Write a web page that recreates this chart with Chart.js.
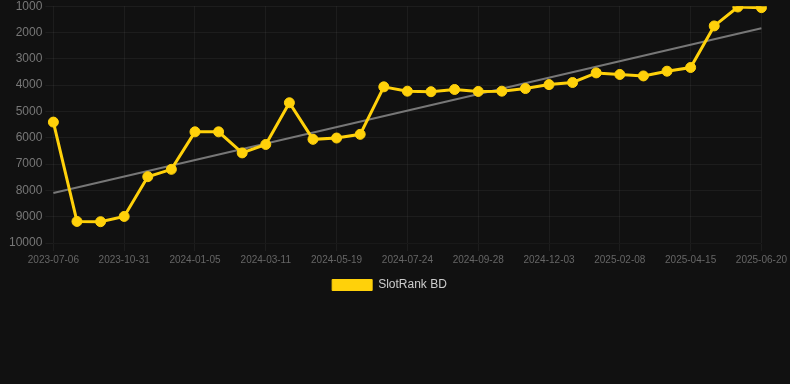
<!DOCTYPE html>
<html lang="en">

<head>
    <meta charset="UTF-8">
    <title>SlotRank BD</title>
    <style>
        body { margin: 0; background: #111111; }
        #wrap { width: 790px; height: 305px; margin-top: -4px; }
    </style>
</head>

<body>
    <div id="wrap">
        <canvas id="myChart"></canvas>
    </div>

    <script src="https://cdn.jsdelivr.net/npm/chart.js"></script>

    <script>
        // datos
        const fechas = [
            '2023-07-06', '2023-08-14', '2023-09-22', '2023-10-31', '2023-11-22', '2023-12-14',
            '2024-01-05', '2024-01-27', '2024-02-18', '2024-03-11', '2024-04-03', '2024-04-26',
            '2024-05-19', '2024-06-10', '2024-07-02', '2024-07-24', '2024-08-15', '2024-09-06',
            '2024-09-28', '2024-10-20', '2024-11-11', '2024-12-03', '2024-12-25', '2025-01-17',
            '2025-02-08', '2025-03-02', '2025-03-24', '2025-04-15', '2025-05-07', '2025-05-29',
            '2025-06-20'
        ]
        const ranking = [
            5405, 9180, 9190, 8990, 7480, 7200,
            5775, 5775, 6575, 6255, 4670, 6060,
            6010, 5870, 4065, 4230, 4250, 4165,
            4240, 4230, 4130, 3980, 3900, 3535,
            3595, 3650, 3470, 3330, 1750, 1030,
            1055
        ]
        // tendencia: solo los extremos
        const tendencia = [8100]
        for (let i = 1; i < fechas.length - 1; i++) tendencia.push(null)
        tendencia.push(1835)

        const amarillo = '#FFD10A'

        Chart.defaults.font.family = '"Liberation Sans", Arial, sans-serif'

        const ctx = document.getElementById('myChart')
        new Chart(ctx, {
            type: 'line',
            data: {
                labels: fechas,
                datasets: [{
                    label: 'SlotRank BD',
                    data: ranking,
                    borderColor: amarillo,
                    backgroundColor: amarillo,
                    borderWidth: 3,
                    pointRadius: 5,
                    pointBorderWidth: 1,
                    pointHoverRadius: 6,
                    tension: 0
                }, {
                    label: 'trend',
                    data: tendencia,
                    borderColor: '#777777',
                    borderWidth: 2,
                    pointRadius: 0,
                    spanGaps: true,
                    tension: 0
                }]
            },
            options: {
                responsive: true,
                maintainAspectRatio: false,
                animation: false,
                layout: { padding: { left: 6, right: 17 } },
                plugins: {
                    legend: {
                        position: 'bottom',
                        labels: {
                            color: '#cccccc',
                            font: { size: 12 },
                            boxWidth: 40,
                            boxHeight: 11,
                            filter: item => item.datasetIndex === 0,
                            generateLabels: chart => {
                                const items = Chart.defaults.plugins.legend.labels.generateLabels(chart)
                                items.forEach(it => { it.lineWidth = 1 })
                                return items
                            }
                        }
                    },
                    tooltip: { enabled: false }
                },
                scales: {
                    x: {
                        grid: { color: 'rgba(255,255,255,0.05)' },
                        ticks: {
                            color: '#666666',
                            font: { size: 10 },
                            maxRotation: 0,
                            minRotation: 0
                        }
                    },
                    y: {
                        reverse: true,
                        min: 1000,
                        max: 10000,
                        grid: { color: 'rgba(255,255,255,0.05)' },
                        border: { display: false },
                        ticks: {
                            stepSize: 1000,
                            color: '#777777',
                            font: { size: 12 },
                            callback: value => String(value)
                        }
                    }
                }
            }
        })
    </script>

</body>

</html>
